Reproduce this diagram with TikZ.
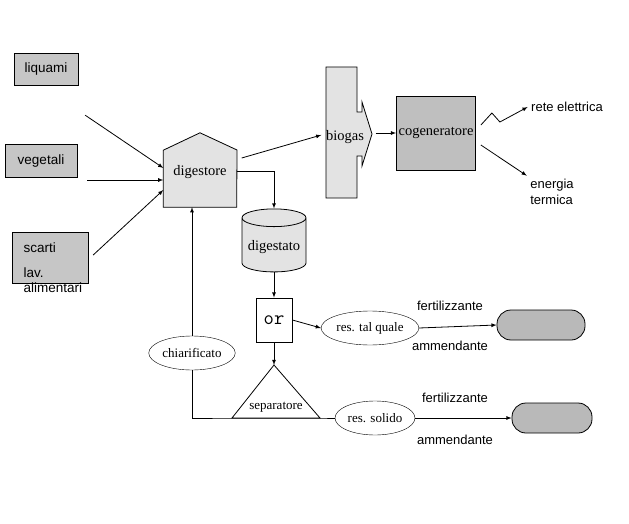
\documentclass[tikz,border=0pt]{standalone}
\usepackage{fontspec}
\setmainfont{Liberation Serif}
\setsansfont{Liberation Sans}
\usetikzlibrary{shapes.geometric,positioning,calc}
\begin{document}
\begin{tikzpicture}
	[x=1pt, y=-1pt,
		input/.style		={rectangle
									, draw
									, fill=gray!45
									, font=\sffamily\fontsize{13.5}{15}\selectfont
									, align=left
									, inner sep=2pt
									},
		unit/.style		 	={draw
									, fill=gray!22
									, font=\fontsize{14.5}{16}\selectfont
									},
		product/.style		={ellipse
									, draw
									, fill=white
									, font=\fontsize{13}{14}\selectfont
									, inner sep=1pt
									},
		pill/.style			={rectangle
									, rounded corners=14pt
									, draw
									, thick
									, fill=gray!55
									, minimum width=88
									, minimum height=30
									},
		note/.style			={font=\sffamily\fontsize{13}{16}\selectfont
									, align=left
									},
		line/.style		 	={draw
									, thick
									, -latex
									}
	]
\useasboundingbox (0,0) rectangle (629,524);

% inputs
\node [input, minimum width=64, minimum height=32] (liquami) at (46,69) {liquami};
\node [input, minimum width=72, minimum height=33] (vegetali) at (41,161) {vegetali};
\node [input, minimum width=76, minimum height=51] (scarti) at (50,258) {};
\node [note, anchor=north west, font=\sffamily\fontsize{13.5}{25}\selectfont] at (20,239) {scarti\\lav.\\[-10pt]alimentari};

% digestore
\node [inner sep=0, minimum width=73, minimum height=74] (digestore) at (200,170) {};
\filldraw [unit, thick] (digestore.south west) -- ++(0,-57) -- (digestore.north)
	-- (237,150) -- (digestore.south east) -- cycle;
\node [font=\fontsize{14.5}{16}\selectfont] at (200,172) {digestore};

% biogas
\node [inner sep=0, minimum width=31, minimum height=131] (biogas) at (341,132) {};
\filldraw [unit, thick] (326,67) -- (357,67) -- (357,112) -- (362,112) -- (362,102)
	-- (372,134) -- (362,166) -- (362,156) -- (357,156) -- (357,198) -- (326,198) -- cycle;
\node [font=\fontsize{14.5}{16}\selectfont, anchor=west, inner sep=0] at (326,137) {biogas};

\node [unit, fill=gray!50, thick, minimum width=79, minimum height=74, inner sep=0] (cogen) at (436,133) {cogeneratore};
\node [note] (rete) at (567,107) {rete elettrica};
\node [note] (termica) at (552,192) {energia\\termica};

% digestato and treatment
\node [cylinder, shape border rotate=90, aspect=0.3, draw, thick, fill=gray!22,
	minimum width=64, minimum height=63, font=\fontsize{14.5}{16}\selectfont] (digestato) at (274,247) {digestato};
\node [draw, thick, minimum width=36, minimum height=44, font=\ttfamily\fontsize{20}{20}\selectfont] (or) at (274,320) {or};
\coordinate (apex) at (274,365);
\coordinate (sepL) at (232,418);
\coordinate (sepR) at (320,418);
\draw [thick] (apex) -- (sepL) -- (sepR) -- cycle;
\node [font=\fontsize{13}{14}\selectfont] (separatore) at (276,407) {separatore};

\node [product, minimum width=68, minimum height=34] (talquale) at (370,328) {res. tal quale};
\node [product, minimum width=62, minimum height=34] (solido) at (375,418) {res. solido};
\node [product, minimum width=68, minimum height=34] (chiarificato) at (192,353) {chiarificato};
\node [pill] (pill1) at (541,325) {};
\node [pill, minimum width=80] (pill2) at (552,418) {};
\node [note] at (450,306) {fertilizzante};
\node [note] at (450,346) {ammendante};
\node [note] at (455,398) {fertilizzante};
\node [note] at (455,440) {ammendante};

\begin{scope}[every path/.style=line]
	\path ($(liquami.south east)+(7,30)$) -- ($(digestore.west)+(0,-2)$);
	\path ($(vegetali.east)+(10,19)$) -- ($(digestore.west)+(0,10)$);
	\path ($(scarti.east)+(5,-3)$) -- ($(digestore.west)+(0,20)$);
	\path ($(digestore.east)+(5,-12)$) -- ($(biogas.west)+(-4,3)$);
	\path ($(biogas.east)+(19,1)$) -- (cogen.west);
	\path ($(cogen.east)+(5,-8)$) -- ++(11,-12) -- ++(8,9) -- (rete.west);
	\path ($(cogen.east)+(5,12)$) -- (termica.north west);
	\path ($(digestore.east)+(0,1)$) -| (digestato.north);
	\path (digestato.south) -- (or.north);
	\path (or.east) -- (talquale.west);
	\path (talquale.east) -- (pill1.west);
	\path (or.south) -- (apex);
	\path (solido.east) -- (pill2.west);
	\path (chiarificato.north) -- (chiarificato.north |- digestore.south);
	\path [-] (chiarificato.south) |- (sepL) -- (sepR) -- (solido.west);
\end{scope}
\end{tikzpicture}
\end{document}
